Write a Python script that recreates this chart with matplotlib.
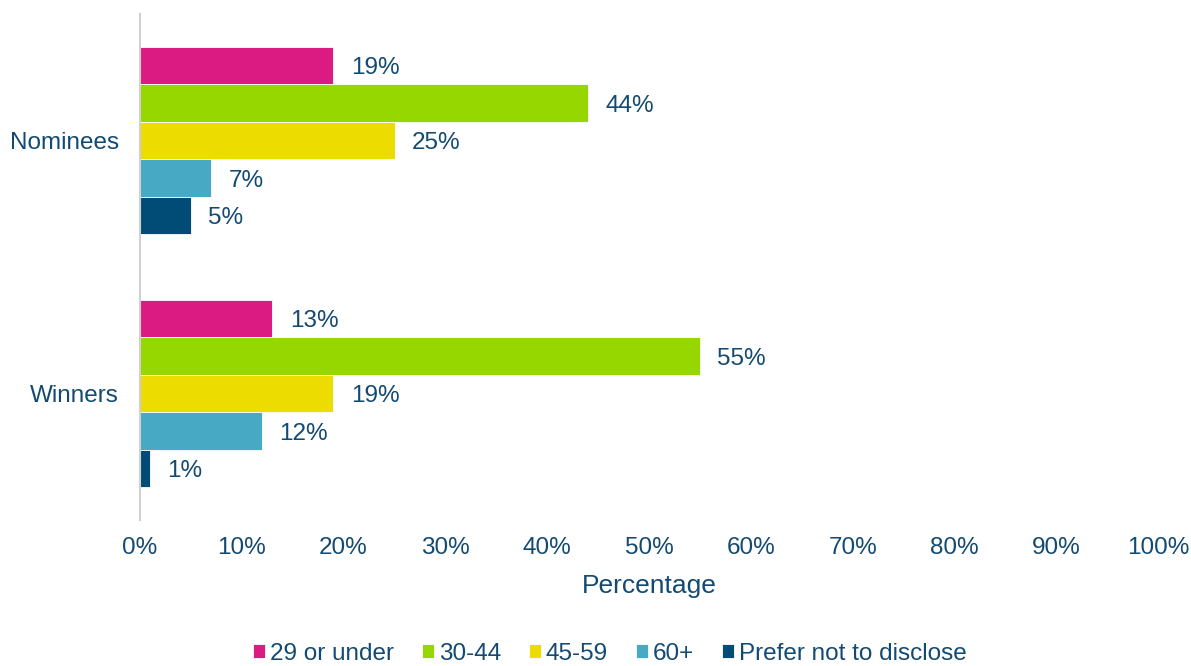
import matplotlib.pyplot as plt
import numpy as np

plt.rcParams['font.family'] = ['Liberation Sans', 'DejaVu Sans']

# Data
groups = ['Nominees', 'Winners']
age_bands = ['29 or under', '30-44', '45-59', '60+', 'Prefer not to disclose']
values = {
    '29 or under': [19, 13],
    '30-44': [44, 55],
    '45-59': [25, 19],
    '60+': [7, 12],
    'Prefer not to disclose': [5, 1],
}
colors = ['#DB1A82', '#97D700', '#EDDC00', '#48A9C5', '#004C76']
text_color = '#134A72'

fig = plt.figure(figsize=(11.91, 6.66), dpi=100)
ax = fig.add_axes([0.1175, 0.219, 0.855, 0.76])

bar_h = 0.148
y_centers = np.arange(len(groups))
for i, (band, col) in enumerate(zip(age_bands, colors)):
    offset = (i - 2) * bar_h
    ys = y_centers + offset
    vals = values[band]
    ax.barh(ys, vals, height=bar_h, color=col, label=band,
            edgecolor='white', linewidth=0.6)
    for y, v in zip(ys, vals):
        ax.text(v + 1.7, y + 0.01, f'{v}%', va='center', ha='left',
                fontsize=17.5, color=text_color)

ax.set_ylim(len(groups) - 0.5, -0.5)
ax.set_xlim(0, 100)
ax.set_yticks(y_centers)
ax.set_yticklabels(groups, fontsize=17.5, color=text_color)
ax.set_xticks(np.arange(0, 101, 10))
ax.set_xticklabels([f'{t}%' for t in range(0, 101, 10)], fontsize=17.5, color=text_color)
ax.tick_params(axis='x', length=0, pad=12)
ax.tick_params(axis='y', length=0, pad=15)
ax.set_xlabel('Percentage', fontsize=19, color=text_color, labelpad=11)

for s in ['top', 'right', 'bottom']:
    ax.spines[s].set_visible(False)
ax.spines['left'].set_color('#D0D0D0')
ax.spines['left'].set_linewidth(1.5)

handles, labels = ax.get_legend_handles_labels()
fig.legend(handles, labels, loc='center', bbox_to_anchor=(0.512, 0.018), ncol=5,
           frameon=False, fontsize=17.5, labelcolor=text_color,
           handlelength=0.5, handleheight=0.5, handletextpad=0.2,
           columnspacing=1.15, borderpad=0)

fig.savefig('out.png', dpi=100)
